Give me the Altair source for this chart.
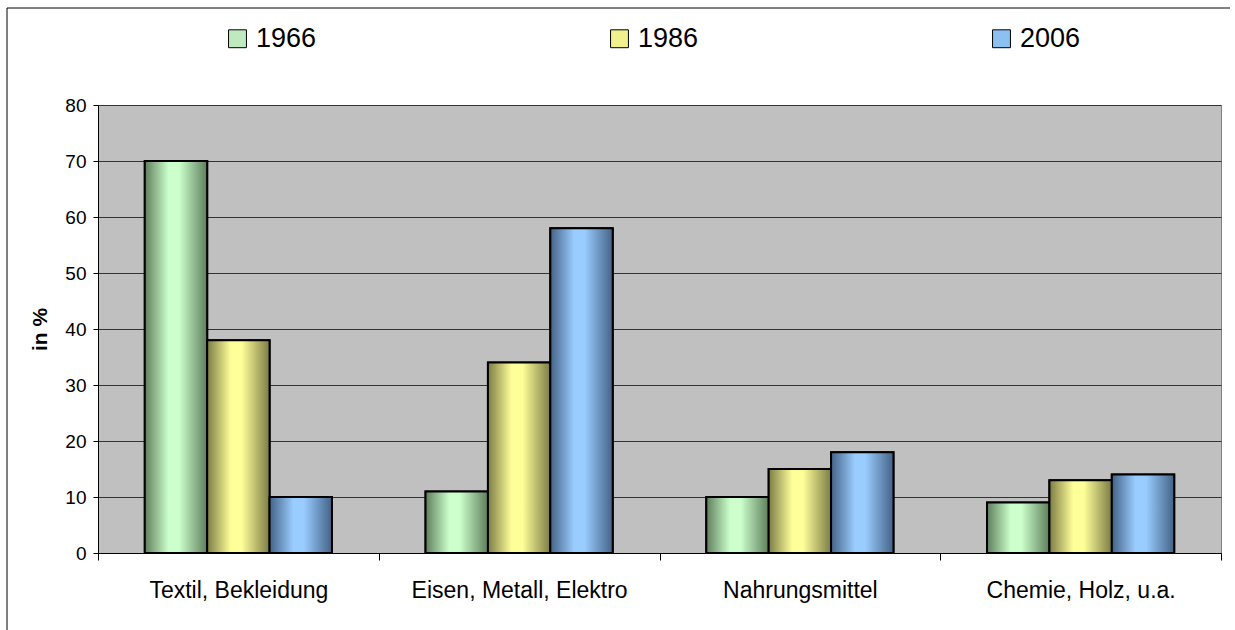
import altair as alt
import pandas as pd

# Branchenanteile in Prozent
kategorien = ["Textil, Bekleidung", "Eisen, Metall, Elektro", "Nahrungsmittel", "Chemie, Holz, u.a."]
jahre = ["1966", "1986", "2006"]
werte_1966 = [70, 11, 10, 9]
werte_1986 = [38, 34, 15, 13]
werte_2006 = [10, 58, 18, 14]

# Grund- und Lichtfarben je Jahr (Rand dunkel, Mitte hell)
flaechen = ["#BFEABF", "#F0F08C", "#8CC0F0"]
hell = ["#CCFFCC", "#FFFF99", "#99CCFF"]
dunkel = ["#5E7E5B", "#7C7C46", "#446286"]

rows = []
for jahr, werte in zip(jahre, [werte_1966, werte_1986, werte_2006]):
    for kat, w in zip(kategorien, werte):
        rows.append({"Branche": kat, "Jahr": jahr, "Anteil": w})
df = pd.DataFrame(rows)

FONT = "Liberation Sans"

x_enc = alt.X(
    "Branche:N",
    sort=kategorien,
    scale=alt.Scale(paddingInner=0, paddingOuter=0),
    axis=alt.Axis(
        title=None,
        labelAngle=0,
        labelFontSize=23,
        labelFont=FONT,
        labelColor="#000000",
        labelPadding=19,
        labelLimit=0,
        tickBand="extent",
        tickSize=7,
        tickColor="#000000",
        domainColor="#000000",
        grid=False,
    ),
)
xoff_enc = alt.XOffset(
    "Jahr:N",
    sort=jahre,
    scale=alt.Scale(domain=jahre, paddingInner=0, paddingOuter=0.75),
)
y_enc = alt.Y(
    "Anteil:Q",
    scale=alt.Scale(domain=[0, 80], nice=False),
    axis=alt.Axis(
        title="in %",
        titleFont=FONT,
        titleFontSize=21,
        titleFontWeight="bold",
        titleColor="#000000",
        titleX=-58,
        titleY=224,
        titleAlign="center",
        titleBaseline="middle",
        titleAngle=270,
        values=list(range(0, 81, 10)),
        labelFontSize=19,
        labelFont=FONT,
        labelColor="#000000",
        labelPadding=7,
        tickSize=5,
        tickColor="#000000",
        domainColor="#000000",
        grid=True,
        gridColor="#333333",
        gridWidth=1,
    ),
)

base = alt.Chart(df).mark_bar(stroke="#000000", strokeWidth=2).encode(
    x=x_enc,
    xOffset=xoff_enc,
    y=y_enc,
    color=alt.Color(
        "Jahr:N",
        scale=alt.Scale(domain=jahre, range=flaechen),
        legend=alt.Legend(
            title=None,
            orient="none",
            direction="horizontal",
            columns=3,
            legendX=126,
            legendY=-80,
            padding=0,
            columnPadding=289,
            symbolType="square",
            symbolSize=320,
            symbolStrokeColor="#000000",
            symbolStrokeWidth=1,
            labelFont=FONT,
            labelFontSize=27,
            labelColor="#000000",
            labelOffset=5,
        ),
    ),
)


def verlauf(dunkel_farbe, hell_farbe):
    return {
        "gradient": "linear",
        "x1": 0, "x2": 1, "y1": 0, "y2": 0,
        "stops": [
            {"offset": 0.0, "color": dunkel_farbe},
            {"offset": 0.38, "color": hell_farbe},
            {"offset": 0.55, "color": hell_farbe},
            {"offset": 1.0, "color": dunkel_farbe},
        ],
    }


schichten = []
for jahr, d, h in zip(jahre, dunkel, hell):
    schichten.append(
        alt.Chart(df)
        .transform_filter(alt.datum.Jahr == jahr)
        .mark_bar(fill=verlauf(d, h), stroke="#000000", strokeWidth=2)
        .encode(x=x_enc, xOffset=xoff_enc, y=y_enc)
    )

# Rahmen des Diagrammbereichs (oben und links)
rahmen_daten = alt.Data(values=[{"r": 1}])
rahmen_oben = alt.Chart(rahmen_daten).mark_rule(color="#000000", strokeWidth=1).encode(
    x=alt.value(-91), x2=alt.value(1132), y=alt.value(-97)
)
rahmen_links = alt.Chart(rahmen_daten).mark_rule(color="#000000", strokeWidth=1).encode(
    x=alt.value(-91), y=alt.value(-97), y2=alt.value(540)
)

chart = (
    alt.layer(base, *schichten, rahmen_oben, rahmen_links)
    .properties(
        width=1123,
        height=448,
        autosize=alt.AutoSizeParams(type="none"),
        padding={"left": 98, "top": 105, "right": 14, "bottom": 77},
        background="#FFFFFF",
    )
    .configure_view(fill="#C0C0C0", stroke="#808080", strokeWidth=1)
)

chart.save("out.html", embed_options={"renderer": "svg", "actions": False})
